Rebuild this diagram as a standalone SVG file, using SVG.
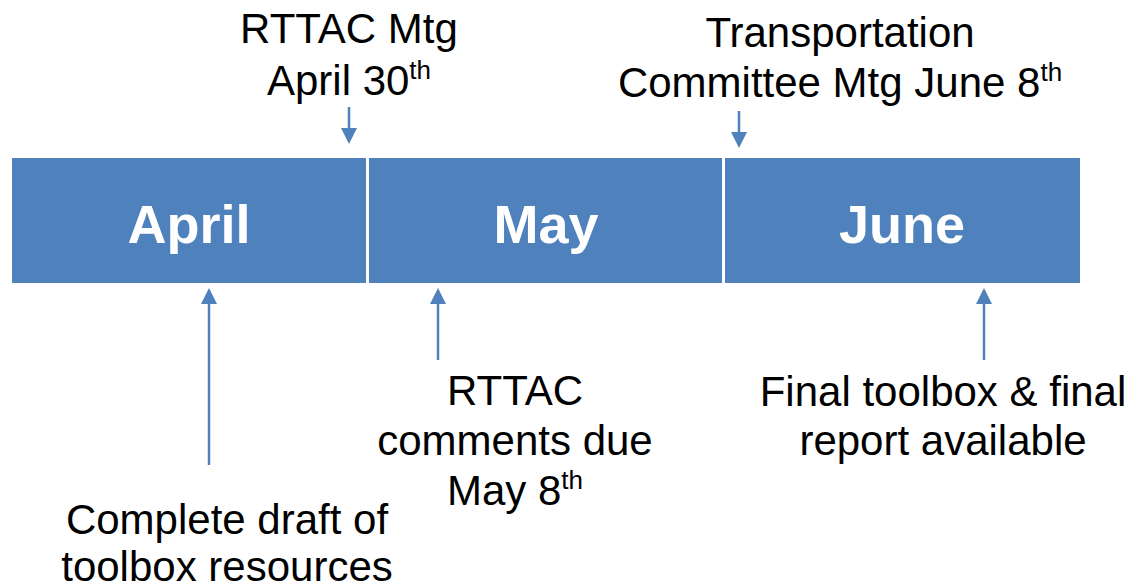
<svg xmlns="http://www.w3.org/2000/svg" width="1134" height="586" viewBox="0 0 1134 586">
<style>
.bar{fill:#4F81BD;}
.month{font-family:"Liberation Sans",Arial,sans-serif;font-weight:bold;font-size:54px;fill:#FFFFFF;text-anchor:middle;}
.lbl{font-family:"Liberation Sans",Arial,sans-serif;font-size:42px;fill:#000000;text-anchor:middle;}
.sup{font-size:26px;}
.conn{stroke:#4F81BD;stroke-width:2.5;fill:none;marker-end:url(#ah);}
</style>
<defs>
<marker id="ah" markerUnits="userSpaceOnUse" markerWidth="16" markerHeight="16" refX="0" refY="8" orient="auto" viewBox="0 0 16 16">
<path d="M0,0 L16,8 L0,16 z" fill="#4F81BD"/>
</marker>
</defs>
<rect width="1134" height="586" fill="#FFFFFF"/>
<g id="april">
<rect class="bar" x="12" y="158" width="354" height="125"/>
<text class="month" x="189" y="243">April</text>
</g>
<g id="may">
<rect class="bar" x="369" y="158" width="353" height="125"/>
<text class="month" x="546" y="243">May</text>
</g>
<g id="june">
<rect class="bar" x="725" y="158" width="355" height="125"/>
<text class="month" x="902" y="243">June</text>
</g>
<g id="rttac-mtg">
<text class="lbl" x="349" y="43">RTTAC Mtg</text>
<text class="lbl" x="349" y="95">April 30<tspan class="sup" dy="-16">th</tspan></text>
</g>
<g id="transportation-mtg">
<text class="lbl" x="840" y="47">Transportation</text>
<text class="lbl" x="840" y="97">Committee Mtg June 8<tspan class="sup" dy="-16">th</tspan></text>
</g>
<g id="complete-draft">
<text class="lbl" x="227" y="534">Complete draft of</text>
<text class="lbl" x="227" y="581">toolbox resources</text>
</g>
<g id="rttac-comments">
<text class="lbl" x="515" y="405">RTTAC</text>
<text class="lbl" x="515" y="455">comments due</text>
<text class="lbl" x="515" y="505">May 8<tspan class="sup" dy="-16">th</tspan></text>
</g>
<g id="final-toolbox">
<text class="lbl" x="943" y="406">Final toolbox &amp; final</text>
<text class="lbl" x="943" y="455">report available</text>
</g>
<g id="connectors">
<line class="conn" x1="349" y1="107" x2="349" y2="128"/>
<line class="conn" x1="739" y1="111" x2="739" y2="132"/>
<line class="conn" x1="209" y1="465" x2="209" y2="304"/>
<line class="conn" x1="438" y1="360" x2="438" y2="304"/>
<line class="conn" x1="984" y1="360" x2="984" y2="304"/>
</g>
</svg>
